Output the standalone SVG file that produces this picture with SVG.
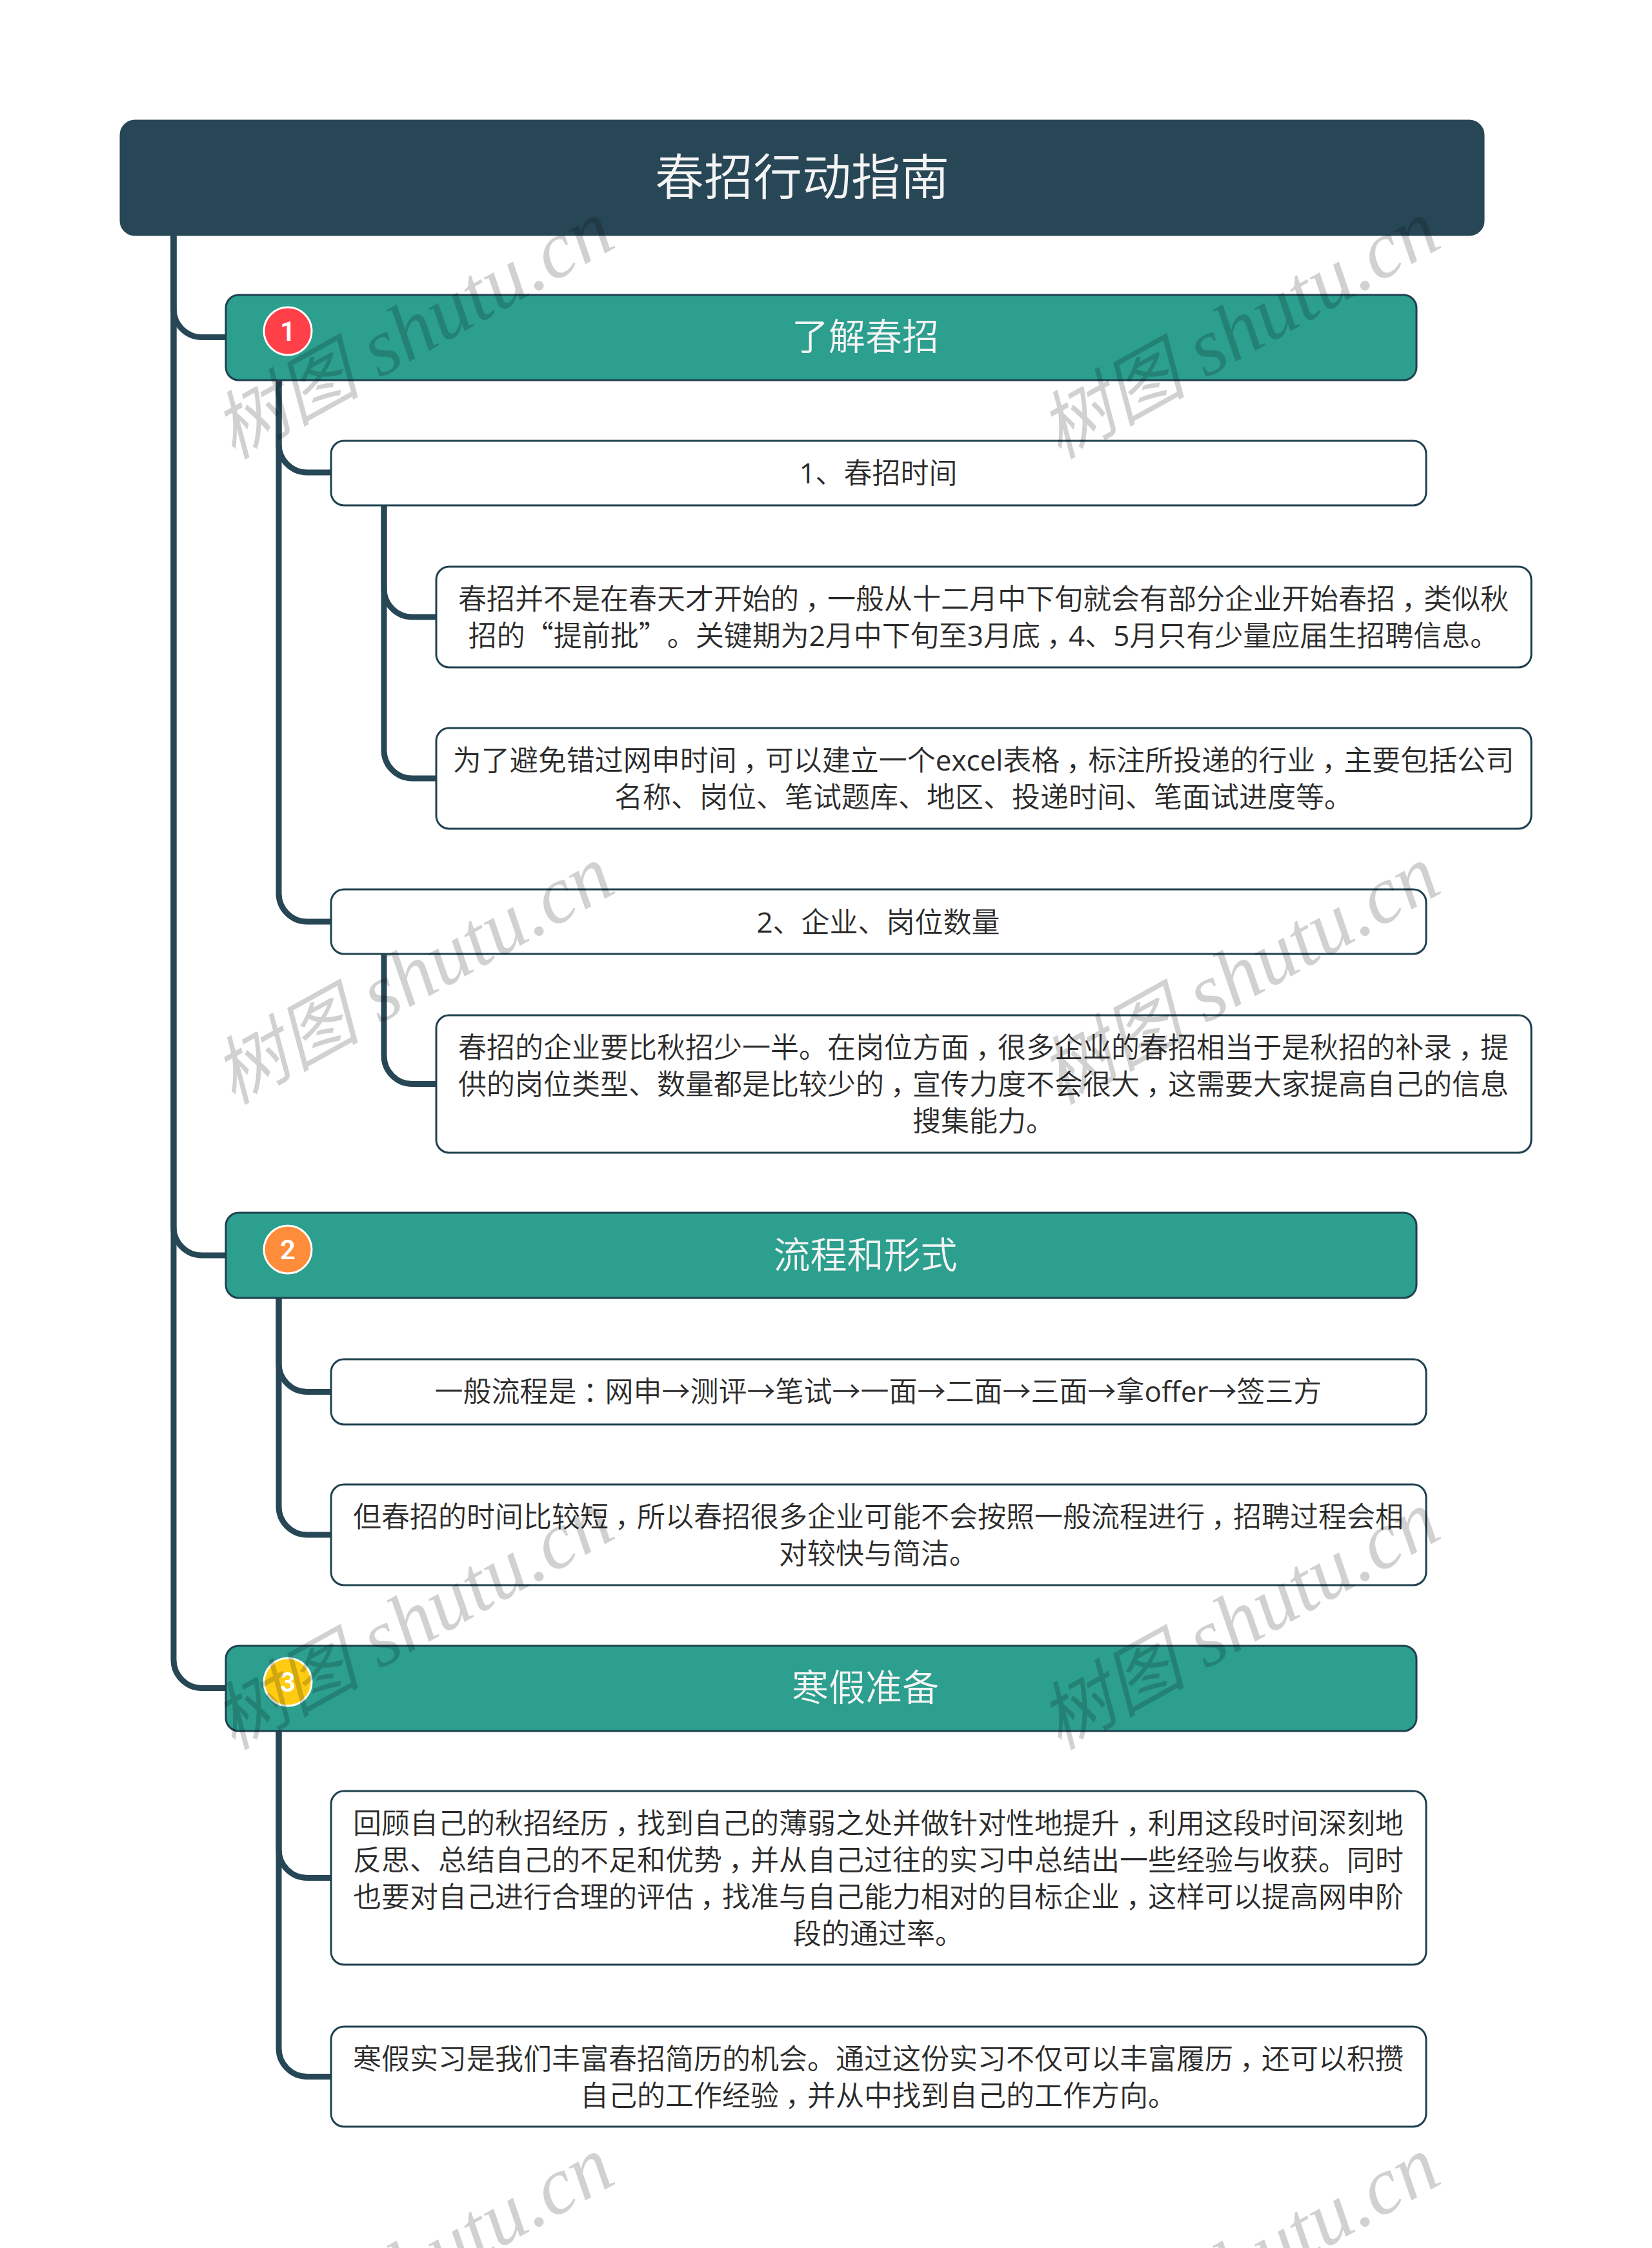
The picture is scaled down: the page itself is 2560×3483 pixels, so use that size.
<svg xmlns="http://www.w3.org/2000/svg" width="2560" height="3483" viewBox="0 0 2560 3483">
<style>
text{font-family:"Open Sans","Noto Sans CJK SC",sans-serif;text-anchor:middle}
.root{fill:#284756;stroke:#284756;stroke-width:3}
.l1{fill:#2c9f8e;stroke:#1f4150;stroke-width:3}
.box{fill:#fff;stroke:#1f4150;stroke-width:3}
.tr{font-size:76px;fill:#f4f4f4;font-weight:350}
.t1{font-size:57px;fill:#f4f4f4;font-weight:350}
.t{font-size:44px;fill:#2b2b2b;font-weight:350}
.q{font-family:"Noto Sans CJK SC",sans-serif}
.a{font-weight:400}
.c{fill:none;stroke:#284756;stroke-width:9}
.ic{stroke:#fff;stroke-width:3}
.d{font-family:Roboto,sans-serif;font-size:42px;font-weight:600;fill:#fff}
.wm{font-family:"Liberation Serif","Noto Sans CJK SC",serif;font-size:114px;font-style:italic;fill:#000;fill-opacity:.18;text-anchor:start}
.wl{font-size:126px}
</style>
<rect width="2560" height="3483" fill="#fff"/>
<g id="connectors">
<path class="c" d="M269 364V478.5A44 44 0 0 0 313 522.5H350"/>
<path class="c" d="M269 364V1901A44 44 0 0 0 313 1945H350"/>
<path class="c" d="M269 364V2571.5A44 44 0 0 0 313 2615.5H350"/>
<path class="c" d="M432 589V688A44 44 0 0 0 476 732H513"/>
<path class="c" d="M432 589V1384A44 44 0 0 0 476 1428H513"/>
<path class="c" d="M595 783V912A44 44 0 0 0 639 956H675"/>
<path class="c" d="M595 783V1162A44 44 0 0 0 639 1206H675"/>
<path class="c" d="M595 1478V1635.5A44 44 0 0 0 639 1679.5H675"/>
<path class="c" d="M432 2011V2112.5A44 44 0 0 0 476 2156.5H513"/>
<path class="c" d="M432 2011V2334A44 44 0 0 0 476 2378H513"/>
<path class="c" d="M432 2682V2865.5A44 44 0 0 0 476 2909.5H513"/>
<path class="c" d="M432 2682V3173.5A44 44 0 0 0 476 3217.5H513"/>
</g>
<g id="root"><rect class="root" x="187" y="187" width="2112" height="177" rx="22"/><text class="tr" x="1243" y="302">春招行动指南</text></g>
<g id="n1"><rect class="l1" x="350" y="457" width="1845" height="132" rx="20"/><circle class="ic" cx="446" cy="513" r="37" fill="#ff4049"/><text class="d" x="446" y="528">1</text><text class="t1" x="1341" y="542">了解春招</text></g>
<g id="n11"><rect class="box" x="513" y="683" width="1697" height="100" rx="20"/><text class="t" x="1361" y="749"><tspan class="a">1</tspan>、春招时间</text></g>
<g id="n111"><rect class="box" x="676" y="878" width="1697" height="156" rx="20"/><text class="t" x="1524" y="944">春招并不是在春天才开始的<tspan dx="10">，</tspan><tspan dx="-10">一</tspan>般从十二月中下旬就会有部分企业开始春招<tspan dx="10">，</tspan><tspan dx="-10">类</tspan>似秋</text><text class="t" x="1524" y="1001">招的<tspan class="q">“</tspan>提前批<tspan class="q">”</tspan><tspan dx="22">。</tspan>关键期为<tspan class="a">2</tspan>月中下旬至<tspan class="a">3</tspan>月底<tspan dx="10">，</tspan><tspan dx="-10" class="a">4</tspan>、<tspan class="a">5</tspan>月只有少量应届生招聘信息。</text></g>
<g id="n112"><rect class="box" x="676" y="1128" width="1697" height="156" rx="20"/><text class="t" x="1524" y="1194">为了避免错过网申时间<tspan dx="10">，</tspan><tspan dx="-10">可</tspan>以建立一个<tspan class="a">excel</tspan>表格<tspan dx="10">，</tspan><tspan dx="-10">标</tspan>注所投递的行业<tspan dx="10">，</tspan><tspan dx="-10">主</tspan>要包括公司</text><text class="t" x="1524" y="1251">名称、岗位、笔试题库、地区、投递时间、笔面试进度等。</text></g>
<g id="n12"><rect class="box" x="513" y="1378" width="1697" height="100" rx="20"/><text class="t" x="1361" y="1445"><tspan class="a">2</tspan>、企业、岗位数量</text></g>
<g id="n121"><rect class="box" x="676" y="1573" width="1697" height="213" rx="20"/><text class="t" x="1524" y="1639">春招的企业要比秋招少一半。在岗位方面<tspan dx="10">，</tspan><tspan dx="-10">很</tspan>多企业的春招相当于是秋招的补录<tspan dx="10">，</tspan><tspan dx="-10">提</tspan></text><text class="t" x="1524" y="1696">供的岗位类型、数量都是比较少的<tspan dx="10">，</tspan><tspan dx="-10">宣</tspan>传力度不会很大<tspan dx="10">，</tspan><tspan dx="-10">这</tspan>需要大家提高自己的信息</text><text class="t" x="1524" y="1753">搜集能力。</text></g>
<g id="n2"><rect class="l1" x="350" y="1879" width="1845" height="132" rx="20"/><circle class="ic" cx="446" cy="1936" r="37" fill="#ff8c3a"/><text class="d" x="446" y="1951">2</text><text class="t1" x="1341" y="1965">流程和形式</text></g>
<g id="n21"><rect class="box" x="513" y="2106" width="1697" height="101" rx="20"/><text class="t" x="1361" y="2172">一般流程是<tspan dx="10">：</tspan><tspan dx="-10">网</tspan>申→测评→笔试→一面→二面→三面→拿<tspan class="a">offer</tspan>→签三方</text></g>
<g id="n22"><rect class="box" x="513" y="2300" width="1697" height="156" rx="20"/><text class="t" x="1361" y="2366">但春招的时间比较短<tspan dx="10">，</tspan><tspan dx="-10">所</tspan>以春招很多企业可能不会按照一般流程进行<tspan dx="10">，</tspan><tspan dx="-10">招</tspan>聘过程会相</text><text class="t" x="1361" y="2423">对较快与简洁。</text></g>
<g id="n3"><rect class="l1" x="350" y="2550" width="1845" height="132" rx="20"/><circle class="ic" cx="446" cy="2606" r="37" fill="#ffcc12"/><text class="d" x="446" y="2621">3</text><text class="t1" x="1341" y="2635">寒假准备</text></g>
<g id="n31"><rect class="box" x="513" y="2775" width="1697" height="269" rx="20"/><text class="t" x="1361" y="2841">回顾自己的秋招经历<tspan dx="10">，</tspan><tspan dx="-10">找</tspan>到自己的薄弱之处并做针对性地提升<tspan dx="10">，</tspan><tspan dx="-10">利</tspan>用这段时间深刻地</text><text class="t" x="1361" y="2898">反思、总结自己的不足和优势<tspan dx="10">，</tspan><tspan dx="-10">并</tspan>从自己过往的实习中总结出一些经验与收获。同时</text><text class="t" x="1361" y="2955">也要对自己进行合理的评估<tspan dx="10">，</tspan><tspan dx="-10">找</tspan>准与自己能力相对的目标企业<tspan dx="10">，</tspan><tspan dx="-10">这</tspan>样可以提高网申阶</text><text class="t" x="1361" y="3012">段的通过率。</text></g>
<g id="n32"><rect class="box" x="513" y="3140" width="1697" height="155" rx="20"/><text class="t" x="1361" y="3206">寒假实习是我们丰富春招简历的机会。通过这份实习不仅可以丰富履历<tspan dx="10">，</tspan><tspan dx="-10">还</tspan>可以积攒</text><text class="t" x="1361" y="3263">自己的工作经验<tspan dx="10">，</tspan><tspan dx="-10">并</tspan>从中找到自己的工作方向。</text></g>
<g id="watermarks">
<text class="wm" transform="translate(361 712) rotate(-29)">树图<tspan class="wl"> shutu.cn</tspan></text>
<text class="wm" transform="translate(1641 712) rotate(-29)">树图<tspan class="wl"> shutu.cn</tspan></text>
<text class="wm" transform="translate(361 1712) rotate(-29)">树图<tspan class="wl"> shutu.cn</tspan></text>
<text class="wm" transform="translate(1641 1712) rotate(-29)">树图<tspan class="wl"> shutu.cn</tspan></text>
<text class="wm" transform="translate(361 2712) rotate(-29)">树图<tspan class="wl"> shutu.cn</tspan></text>
<text class="wm" transform="translate(1641 2712) rotate(-29)">树图<tspan class="wl"> shutu.cn</tspan></text>
<text class="wm" transform="translate(361 3712) rotate(-29)">树图<tspan class="wl"> shutu.cn</tspan></text>
<text class="wm" transform="translate(1641 3712) rotate(-29)">树图<tspan class="wl"> shutu.cn</tspan></text>
</g>
</svg>
